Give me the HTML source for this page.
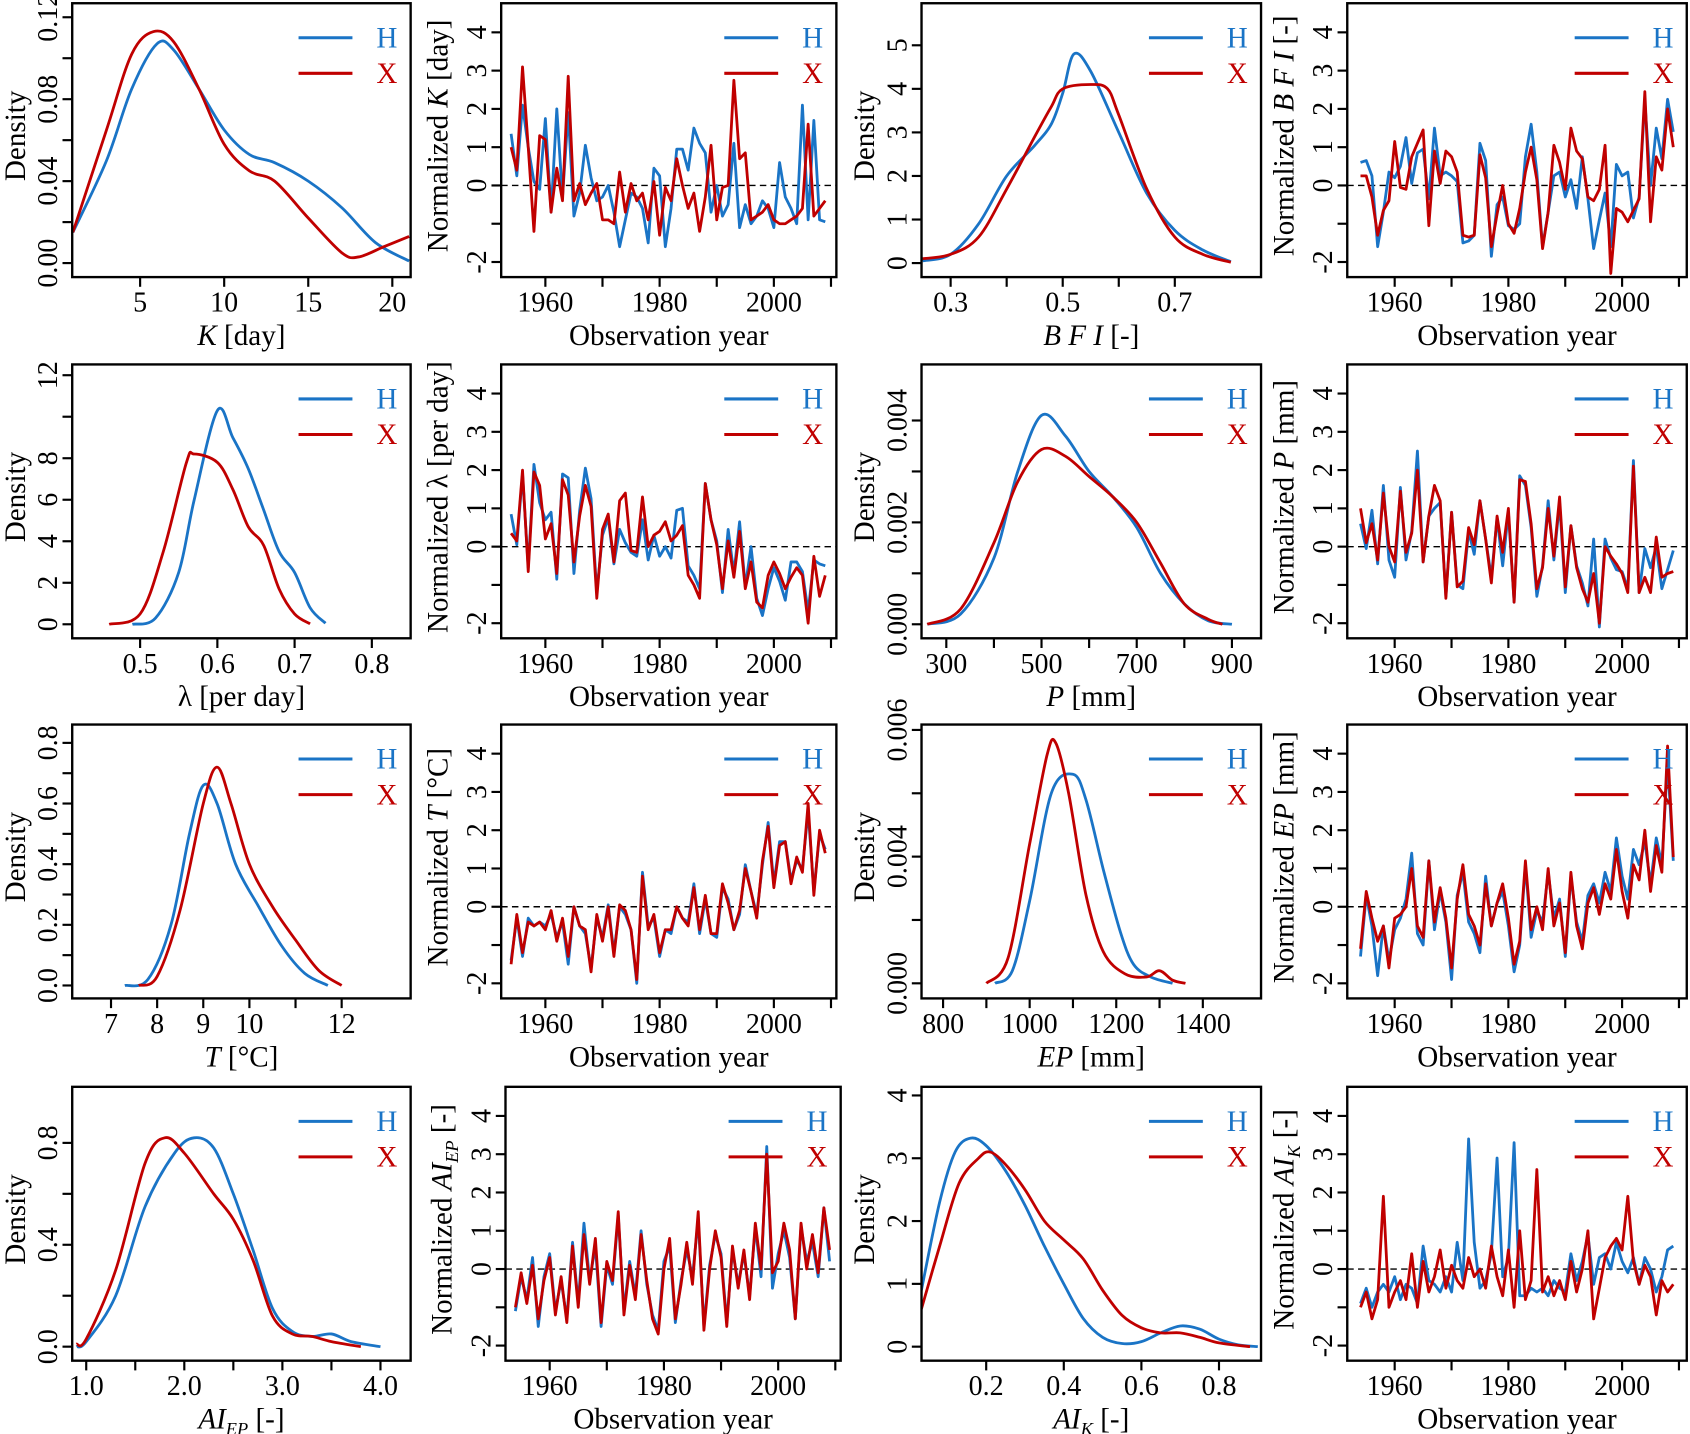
<!DOCTYPE html>
<html><head><meta charset="utf-8"><title>Density and normalized time series</title>
<style>
html,body{margin:0;padding:0;background:#fff;}
svg{display:block;font-family:"Liberation Serif",serif;}
</style></head>
<body>
<svg id="fig" xmlns="http://www.w3.org/2000/svg" width="1690" height="1434" viewBox="0 0 1568 1330" preserveAspectRatio="none"></svg>
<script>
// ---------------- data ----------------
const kX = [1,3,4.5,6,7,8.5,10,11.5,13,15,17,19,21];
const kH = [0.015,0.05,0.085,0.107,0.104,0.085,0.065,0.053,0.049,0.040,0.027,0.010,0.001];
const kXx = [1,3,4.5,5.8,7,8.5,10,11.5,13,15,17,18,19.5,21];
const kXd = [0.015,0.065,0.102,0.113,0.108,0.085,0.058,0.045,0.040,0.022,0.005,0.003,0.008,0.013];

const bfiHx = [0.25,0.3,0.35,0.4,0.45,0.48,0.5,0.52,0.55,0.6,0.65,0.7,0.75,0.8];
const bfiHd = [0.05,0.2,0.9,2.0,2.7,3.2,3.9,4.8,4.4,3.0,1.6,0.75,0.3,0.03];
const bfiXx = [0.25,0.3,0.35,0.4,0.45,0.48,0.5,0.55,0.58,0.6,0.65,0.7,0.75,0.8];
const bfiXd = [0.1,0.2,0.6,1.7,2.9,3.6,4.0,4.1,4.0,3.4,1.7,0.6,0.2,0.02];

const lamHx = [0.49,0.52,0.55,0.57,0.6,0.62,0.64,0.66,0.68,0.7,0.72,0.74];
const lamHd = [0,0.3,2.5,6,10.3,9,7.5,5.5,3.5,2.5,0.8,0.05];
const lamXx = [0.46,0.5,0.53,0.56,0.57,0.6,0.62,0.64,0.66,0.68,0.7,0.72];
const lamXd = [0,0.5,3.5,7.8,8.2,7.8,6.5,4.7,3.8,1.7,0.5,0.02];

const pHx = [260,330,400,450,500,550,600,650,700,750,800,850,900];
const pHd = [0,0.0002,0.0013,0.0030,0.0041,0.0037,0.0030,0.0025,0.0019,0.0010,0.0004,0.00007,0];
const pXx = [260,330,400,450,500,550,600,650,700,750,800,850,880];
const pXd = [0,0.0003,0.0016,0.0028,0.00343,0.0033,0.0029,0.0025,0.0020,0.0012,0.0004,0.0001,0];

const tHx = [7.3,7.8,8.3,8.7,9.0,9.3,9.7,10.2,10.7,11.2,11.7];
const tHd = [0,0.02,0.2,0.5,0.66,0.6,0.4,0.26,0.13,0.04,0];
const tXx = [7.6,8.0,8.5,9.0,9.3,9.6,10.0,10.5,11.0,11.5,12.0];
const tXd = [0,0.03,0.25,0.6,0.72,0.6,0.4,0.26,0.15,0.05,0];

const epHx = [920,960,1000,1050,1100,1130,1170,1210,1240,1280,1330];
const epHd = [0,0.0002,0.0013,0.0030,0.0033,0.0029,0.0018,0.0008,0.0003,0.0001,0];
const epXx = [900,950,1000,1040,1060,1090,1130,1170,1220,1270,1300,1330,1360];
const epXd = [0,0.0004,0.0022,0.0036,0.0038,0.0030,0.0014,0.0005,0.00015,0.0001,0.0002,0.00005,0];

const aieHx = [0.9,1.0,1.3,1.6,1.9,2.1,2.3,2.5,2.7,2.9,3.1,3.3,3.5,3.7,4.0];
const aieHd = [0,0.02,0.2,0.55,0.76,0.82,0.78,0.6,0.38,0.15,0.06,0.04,0.05,0.02,0];
const aieXx = [0.9,1.0,1.3,1.6,1.8,2.0,2.3,2.5,2.7,2.9,3.1,3.3,3.5,3.8];
const aieXd = [0.01,0.03,0.3,0.72,0.82,0.76,0.6,0.5,0.34,0.12,0.05,0.04,0.02,0];

const aikHx = [0.033,0.08,0.12,0.16,0.2,0.25,0.3,0.35,0.4,0.45,0.5,0.55,0.6,0.65,0.7,0.75,0.8,0.85,0.9];
const aikHd = [0.9,2.3,3.1,3.32,3.2,2.8,2.25,1.6,1.0,0.45,0.15,0.05,0.08,0.22,0.33,0.28,0.12,0.03,0];
const aikXx = [0.033,0.08,0.13,0.18,0.21,0.25,0.3,0.35,0.4,0.45,0.5,0.55,0.6,0.65,0.7,0.75,0.8,0.88];
const aikXd = [0.6,1.6,2.6,3.0,3.1,2.9,2.5,2.0,1.7,1.4,0.9,0.5,0.3,0.22,0.22,0.15,0.06,0];

const startYear = 1954;
const tsKH = [1.35,0.25,2.1,1.0,0.1,-0.1,1.75,-0.7,2.0,-0.3,1.9,-0.8,-0.2,1.05,0.2,-0.4,-0.3,0.0,-0.7,-1.6,-0.9,-0.2,-0.3,-0.6,-1.5,0.45,0.25,-1.6,-0.6,0.95,0.95,0.4,1.5,1.1,0.85,-0.7,0.0,-0.8,-0.5,1.1,-1.1,-0.5,-1.0,-0.8,-0.4,-0.6,-1.1,0.6,-0.3,-0.6,-1.0,2.1,-0.9,1.7,-0.9,-0.95];
const tsKX = [1.0,0.4,3.1,1.0,-1.2,1.3,1.2,-0.7,0.45,-0.4,2.85,-0.4,0.05,-0.5,-0.2,0.05,-0.9,-0.9,-1.0,0.35,-0.7,0.05,-0.4,-0.2,-0.9,0.1,-1.3,-0.05,-0.4,0.7,0.0,-0.6,-0.2,-1.2,-0.3,1.05,-0.9,-0.05,0.0,2.75,0.7,0.85,-0.9,-0.8,-0.7,-0.5,-0.9,-1.0,-1.0,-0.9,-0.8,-0.6,1.6,-0.8,-0.6,-0.4];
const tsBfiH = [0.6,0.65,0.25,-1.6,-0.7,0.35,0.2,0.5,1.25,0.05,0.85,0.95,-0.35,1.5,0.25,0.35,0.25,0.1,-1.5,-1.45,-1.3,1.1,0.65,-1.85,-0.5,-0.3,-1.05,-1.15,-1.0,0.75,1.6,0.35,-1.6,-0.7,0.25,0.35,-0.3,0.15,-0.6,0.75,-0.35,-1.65,-0.9,-0.2,-1.6,0.55,0.25,0.35,-0.85,-0.3,2.2,0.0,1.5,0.7,2.25,1.4];
const tsBfiX = [0.25,0.25,-0.3,-1.3,-0.65,-0.4,1.15,-0.05,-0.1,0.75,1.1,1.45,-1.05,0.9,0.05,0.9,0.75,0.35,-1.3,-1.35,-1.3,0.8,0.2,-1.6,-0.75,0.0,-1.0,-1.25,-0.6,0.35,1.0,0.15,-1.65,-0.7,1.05,0.6,-0.1,1.5,0.9,0.7,-0.3,-0.4,-0.1,1.05,-2.3,-0.6,-0.7,-0.95,-0.65,-0.35,2.45,-0.95,0.75,0.4,2.0,1.0];
const tsLamH = [0.85,0.05,1.9,-0.55,2.15,1.15,0.7,0.9,-0.85,1.9,1.8,-0.7,0.95,2.05,1.25,-1.2,0.3,0.75,-0.45,0.45,0.1,-0.15,-0.25,0.7,-0.35,0.3,-0.25,0.0,-0.3,0.95,1.0,-0.5,-0.75,-1.1,1.65,0.7,0.15,-1.2,0.45,-0.7,0.65,-1.05,0.0,-1.35,-1.8,-1.1,-0.55,-0.9,-1.4,-0.4,-0.4,-0.65,-1.7,-0.35,-0.45,-0.5];
const tsLamX = [0.35,0.15,2.0,-0.65,1.95,1.6,0.2,0.6,-0.7,1.75,1.35,-0.4,0.8,1.6,1.05,-1.35,0.45,0.85,-0.4,1.2,1.4,-0.1,-0.15,1.3,0.0,0.3,0.4,0.65,0.15,0.3,0.55,-0.75,-1.0,-1.35,1.65,0.7,0.05,-1.1,0.15,-0.8,0.4,-1.1,-0.4,-1.45,-1.6,-0.75,-0.4,-0.7,-1.1,-0.8,-0.55,-0.75,-2.0,-0.25,-1.3,-0.75];
const tsPH = [0.6,-0.05,0.95,-0.45,1.6,-0.35,-0.8,1.55,-0.35,0.4,2.5,-0.4,0.8,1.0,1.15,-1.3,0.9,-1.0,-1.1,0.4,-0.2,1.2,0.2,-0.8,0.75,-0.5,0.9,-1.45,1.85,1.6,0.5,-1.3,-0.5,1.2,-0.35,1.15,-1.2,0.55,-0.5,-0.95,-1.55,0.2,-2.1,0.2,-0.3,-0.6,-0.65,-1.1,2.25,-1.2,-0.05,-0.55,0.0,-1.1,-0.6,-0.1];
const tsPX = [1.0,0.1,0.6,-0.35,1.4,0.0,-0.4,1.45,-0.15,0.35,2.0,-0.4,0.8,1.6,1.2,-1.35,0.9,-1.05,-0.9,0.5,0.05,1.2,0.2,-0.95,0.8,-0.15,1.0,-1.45,1.75,1.7,0.6,-1.1,-0.55,1.0,-0.25,1.3,-1.05,0.55,-0.55,-1.1,-1.45,-0.7,-2.0,0.0,-0.25,-0.45,-0.7,-1.2,2.1,-1.2,-0.8,-1.2,0.25,-0.8,-0.7,-0.65];
const tsTH = [-1.4,-0.3,-1.3,-0.3,-0.5,-0.4,-0.5,-0.2,-0.8,-0.4,-1.5,0.0,-0.5,-0.7,-1.6,-0.3,-0.8,0.05,-1.2,0.0,-0.2,-0.6,-2.0,0.9,-0.5,-0.3,-1.3,-0.6,-0.7,0.0,-0.3,-0.4,0.6,-0.7,0.2,-0.7,-0.8,0.5,0.2,-0.6,-0.2,1.1,0.4,-0.2,1.1,2.2,0.6,1.7,1.7,0.7,1.2,1.0,2.5,0.4,1.9,1.5];
const tsTX = [-1.5,-0.2,-1.2,-0.4,-0.5,-0.4,-0.6,-0.1,-0.9,-0.3,-1.3,0.0,-0.5,-0.6,-1.7,-0.2,-0.9,0.0,-1.3,0.05,-0.1,-0.6,-1.9,0.8,-0.6,-0.2,-1.2,-0.6,-0.6,0.0,-0.3,-0.5,0.5,-0.6,0.3,-0.7,-0.7,0.6,0.1,-0.6,-0.1,1.0,0.4,-0.3,1.2,2.1,0.5,1.6,1.7,0.6,1.3,0.9,2.7,0.3,2.0,1.4];
const tsEpH = [-1.3,0.3,-0.5,-1.8,-0.5,-1.4,-0.6,-0.3,0.2,1.4,-0.7,-1.0,1.2,-0.6,0.4,-0.4,-1.9,0.3,0.9,-0.4,-0.7,-1.2,0.8,-0.5,0.1,0.4,-0.5,-1.7,-1.0,1.1,-0.8,-0.1,-0.4,0.9,-0.3,0.2,-1.3,0.8,-0.4,-0.9,0.3,0.6,0.1,0.9,0.4,1.8,0.8,0.2,1.5,1.1,1.7,0.6,1.8,1.1,3.8,1.2];
const tsEpX = [-1.1,0.4,-0.3,-0.9,-0.5,-1.6,-0.3,-0.2,0.0,1.0,-0.5,-0.8,1.2,-0.4,0.5,-0.3,-1.6,0.2,1.1,-0.2,-0.5,-1.0,0.6,-0.5,0.1,0.6,-0.3,-1.5,-0.9,1.2,-0.6,0.0,-0.6,1.0,-0.5,0.1,-1.2,0.9,-0.5,-1.1,0.1,0.5,-0.2,0.6,0.2,1.5,0.4,-0.3,1.1,0.7,2.0,0.4,1.6,0.9,4.2,1.3];
const tsAieH = [-1.1,-0.2,-0.8,0.3,-1.5,-0.2,0.4,-1.1,-0.3,-1.3,0.7,-0.9,1.2,-0.3,0.6,-1.5,0.1,-0.4,1.4,-1.1,0.2,-0.7,1.0,-0.4,-1.2,-1.6,0.2,0.6,-1.4,-0.3,0.5,-0.2,1.3,-1.5,0.1,0.9,0.4,-1.4,0.5,-0.4,0.4,-0.7,1.1,-0.2,3.2,-0.5,0.4,1.0,0.3,-1.3,1.1,0.2,0.7,-0.2,1.6,0.2];
const tsAieX = [-1.0,-0.1,-0.9,0.1,-1.3,-0.3,0.3,-1.2,-0.2,-1.4,0.6,-1.0,0.9,-0.4,0.8,-1.4,0.2,-0.3,1.5,-1.2,0.1,-0.8,0.9,-0.3,-1.3,-1.7,0.0,0.8,-1.3,-0.4,0.7,-0.4,1.5,-1.6,0.0,1.0,0.3,-1.5,0.6,-0.5,0.5,-0.8,1.2,0.0,3.0,-0.1,0.2,1.2,0.5,-1.3,1.2,0.0,0.9,-0.1,1.6,0.5];
const tsAikH = [-0.9,-0.5,-1.0,-0.6,-0.4,-0.6,-0.2,-0.8,-0.4,-0.5,-0.9,0.6,-0.3,-0.4,-0.6,-0.2,-0.6,0.7,-0.3,3.4,0.7,-0.5,-0.3,0.4,2.9,-0.2,0.3,3.3,-0.7,-0.7,-0.5,-0.6,-0.5,-0.7,-0.3,-0.5,-0.6,0.4,-0.3,0.2,0.9,-0.4,0.3,0.4,0.0,0.7,0.2,-0.1,0.3,-0.4,0.3,0.0,-0.6,-0.2,0.5,0.6];
const tsAikX = [-1.0,-0.6,-1.3,-0.8,1.9,-1.0,-0.6,-0.3,-0.8,0.4,-1.0,0.2,-0.6,-0.2,0.5,-0.5,0.1,-0.3,-0.5,0.3,-0.2,0.0,-0.5,0.6,-0.2,-0.7,0.5,-1.0,1.0,-0.8,-0.3,2.6,-0.6,-0.2,-0.7,-0.3,-0.8,0.2,-0.6,0.0,1.0,-1.3,-0.5,0.3,0.6,0.8,0.5,1.9,0.2,-0.4,0.1,-0.2,-1.2,-0.3,-0.6,-0.4];

const tsYTicks = [-2,-1,0,1,2,3,4];
const tsYLabels = ['-2','','0','1','2','3','4'];
const tsXTicks = [1960,1970,1980,1990,2000,2010];
const tsXLabels = ['1960','','1980','','2000',''];

// ---------------- rendering ----------------
const NS = 'http://www.w3.org/2000/svg';
const svg = document.getElementById('fig');
const BLUE = '#1a74c6', RED = '#c00000';
const cols = [[67,381],[465,776],[855,1170],[1250,1565]];
const rowTops = [3,338,672,1008];
const BH = 254;
const TICKFS = 26, TITLEFS = 27;

function mk(tag, parent, a){
  const e = document.createElementNS(NS, tag);
  if (a) for (const k in a) e.setAttribute(k, a[k]);
  parent.appendChild(e);
  return e;
}
function lin(v1,p1,v2,p2){ return v => p1 + (v - v1) * (p2 - p1) / (v2 - v1); }
function smoothPath(pts){
  if (pts.length < 2) return '';
  let d = 'M' + pts[0][0].toFixed(1) + ',' + pts[0][1].toFixed(1);
  for (let i = 0; i < pts.length - 1; i++){
    const p0 = pts[Math.max(0,i-1)], p1 = pts[i], p2 = pts[i+1], p3 = pts[Math.min(pts.length-1,i+2)];
    const c1x = p1[0] + (p2[0]-p0[0])/6, c1y = p1[1] + (p2[1]-p0[1])/6;
    const c2x = p2[0] - (p3[0]-p1[0])/6, c2y = p2[1] - (p3[1]-p1[1])/6;
    d += ' C' + c1x.toFixed(1)+','+c1y.toFixed(1)+' '+c2x.toFixed(1)+','+c2y.toFixed(1)+' '+p2[0].toFixed(1)+','+p2[1].toFixed(1);
  }
  return d;
}
function addRich(textEl, parts){
  parts.forEach(p => {
    const t = mk('tspan', textEl);
    if (p.i) t.setAttribute('font-style','italic');
    if (p.sub){ t.setAttribute('font-size','17'); t.setAttribute('dy','6'); }
    if (p.up){ t.setAttribute('dy','-6'); }
    t.textContent = p.t;
  });
}

let clipId = 0;
function panel(cfg){
  const [L, R] = cfg.xr || cols[cfg.col];
  const T = rowTops[cfg.row], B = T + BH;
  const g = mk('g', svg);
  
  
  const xs = lin(cfg.xa[0], cfg.xa[1], cfg.xb[0], cfg.xb[1]);
  const ys = lin(cfg.ya[0], T + cfg.ya[1], cfg.yb[0], T + cfg.yb[1]);

  const cid = 'clip' + (clipId++);
  const cp = mk('clipPath', g, {id: cid});
  mk('rect', cp, {x: L, y: T, width: R - L, height: BH});

  const xt = mk('g', g);
  
  
  cfg.xticks.forEach((v, i) => {
    const px = xs(v);
    const tk = mk('line', xt, {x1: px, x2: px, y1: B, y2: B + 9, stroke: '#000', 'stroke-width': 2});
    
    
    if (cfg.xlabels[i]){
      const tl = mk('text', xt, {x: px, y: B + 32, 'font-size': TICKFS, 'text-anchor': 'middle'});
      
      
      tl.textContent = cfg.xlabels[i];
    }
  });
  const yt = mk('g', g);
  
  
  cfg.yticks.forEach((v, i) => {
    const py = ys(v);
    const tk = mk('line', yt, {x1: L - 9, x2: L, y1: py, y2: py, stroke: '#000', 'stroke-width': 2});
    
    
    if (cfg.ylabels[i]){
      const lx = L - 14;
      const tl = mk('text', yt, {x: lx, y: py, 'font-size': TICKFS, 'text-anchor': 'middle', transform: 'rotate(-90 ' + lx + ' ' + py + ')'});
      
      
      tl.textContent = cfg.ylabels[i];
    }
  });
  if (cfg.ts){
    const zl = mk('line', g, {x1: L, x2: R, y1: ys(0), y2: ys(0), stroke: '#000', 'stroke-width': 1.3, 'stroke-dasharray': '6,4'});
    
    
  }
  const sg = mk('g', g, {'clip-path': 'url(#' + cid + ')'});
  cfg.series.forEach(s => {
    let pts;
    if (cfg.ts) pts = s.v.map((v, i) => [xs(startYear + i), ys(v)]);
    else pts = s.x.map((v, i) => [xs(v), ys(s.v[i])]);
    const d = cfg.ts ? 'M' + pts.map(p => p[0].toFixed(1) + ',' + p[1].toFixed(1)).join(' L') : smoothPath(pts);
    const p = mk('path', sg, {d: d, fill: 'none', stroke: s.c, 'stroke-width': 2.6, 'stroke-linejoin': 'round'});
    
    
  });
  const fr = mk('rect', g, {x: L, y: T, width: R - L, height: BH, fill: 'none', stroke: '#000', 'stroke-width': 2.2});
  
  
  const lg = mk('g', g);
  
  
  [['H', BLUE, 32], ['X', RED, 65]].forEach(([lab, col, dy]) => {
    const ln = mk('line', lg, {x1: R - 104, x2: R - 54, y1: T + dy, y2: T + dy, stroke: col, 'stroke-width': 2.8});
    
    
    const tx = mk('text', lg, {x: R - 22, y: T + dy + 9, 'font-size': 27, 'text-anchor': 'middle', fill: col});
    
    
    tx.textContent = lab;
  });
  const xtl = mk('text', g, {x: (L + R) / 2, y: B + 63, 'font-size': TITLEFS, 'text-anchor': 'middle'});
  
  
  addRich(xtl, cfg.xtitle);
  const yx = L - (cfg.ts ? 50 : 44), yy = (T + B) / 2 - 4;
  const ytl = mk('text', g, {x: yx, y: yy, 'font-size': TITLEFS, 'text-anchor': 'middle', transform: 'rotate(-90 ' + yx + ' ' + yy + ')'});
  
  
  addRich(ytl, cfg.ytitle);
}

function densityPanel(name, col, row, xa, xb, ya, yb, xticks, xlabels, yticks, ylabels, xtitle, hx, hv, xx, xv){
  panel({name, col, row, xa, xb, ya, yb, xticks, xlabels, yticks, ylabels, xtitle,
    ytitle: [{t: 'Density'}],
    series: [{name: 'h-density-curve', c: BLUE, x: hx, v: hv}, {name: 'x-density-curve', c: RED, x: xx, v: xv}]});
}
function tsPanel(name, col, row, ytitle, hv, xv){
  const c2 = col === 1;
  const shift = (c2 && row === 3) ? 4 : 0;
  panel({name, col, row, ts: true,
    xr: c2 ? [465 + shift, 776 + shift] : cols[col],
    xa: c2 ? [1960, 506 + shift] : [1960, 1294],
    xb: c2 ? [2000, 718 + shift] : [2000, 1505],
    ya: [0, 169], yb: [4, 27],
    xticks: tsXTicks, xlabels: tsXLabels, yticks: tsYTicks, ylabels: tsYLabels,
    xtitle: [{t: 'Observation year'}], ytitle,
    series: [{name: 'h-series-line', c: BLUE, v: hv}, {name: 'x-series-line', c: RED, v: xv}]});
}

densityPanel('k-density-panel', 0, 0, [5,130], [20,364], [0,241], [0.12,13],
  [5,10,15,20], ['5','10','15','20'], [0,0.02,0.04,0.06,0.08,0.1,0.12], ['0.00','','0.04','','0.08','','0.12'],
  [{t:'K', i:true}, {t:' [day]'}], kX, kH, kXx, kXd);
tsPanel('k-timeseries-panel', 1, 0, [{t:'Normalized '}, {t:'K', i:true}, {t:' [day]'}], tsKH, tsKX);
densityPanel('bfi-density-panel', 2, 0, [0.3,882], [0.7,1090], [0,241], [5,39],
  [0.3,0.4,0.5,0.6,0.7], ['0.3','','0.5','','0.7'], [0,1,2,3,4,5], ['0','1','2','3','4','5'],
  [{t:'B F I', i:true}, {t:'  [-]'}], bfiHx, bfiHd, bfiXx, bfiXd);
tsPanel('bfi-timeseries-panel', 3, 0, [{t:'Normalized '}, {t:'B F I', i:true}, {t:'  [-]'}], tsBfiH, tsBfiX);
densityPanel('lambda-density-panel', 0, 1, [0.5,130], [0.8,345], [0,241], [12,10],
  [0.5,0.6,0.7,0.8], ['0.5','0.6','0.7','0.8'], [0,2,4,6,8,10,12], ['0','2','4','6','8','','12'],
  [{t:'λ  [per day]'}], lamHx, lamHd, lamXx, lamXd);
tsPanel('lambda-timeseries-panel', 1, 1, [{t:'Normalized λ  [per day]'}], tsLamH, tsLamX);
densityPanel('p-density-panel', 2, 1, [300,878], [900,1143], [0,241], [0.004,52],
  [300,400,500,600,700,800,900], ['300','','500','','700','','900'], [0,0.001,0.002,0.003,0.004], ['0.000','','0.002','','0.004'],
  [{t:'P', i:true}, {t:'  [mm]'}], pHx, pHd, pXx, pXd);
tsPanel('p-timeseries-panel', 3, 1, [{t:'Normalized '}, {t:'P', i:true}, {t:'  [mm]'}], tsPH, tsPX);
densityPanel('t-density-panel', 0, 2, [7,103], [12,317], [0,242], [0.8,17],
  [7,8,9,10,11,12], ['7','8','9','10','','12'], [0,0.1,0.2,0.3,0.4,0.5,0.6,0.7,0.8], ['0.0','','0.2','','0.4','','0.6','','0.8'],
  [{t:'T', i:true}, {t:'  [°C]'}], tHx, tHd, tXx, tXd);
tsPanel('t-timeseries-panel', 1, 2, [{t:'Normalized '}, {t:'T', i:true}, {t:' [°C]'}], tsTH, tsTX);
densityPanel('ep-density-panel', 2, 2, [800,875], [1400,1116], [0,240], [0.004,5],
  [800,900,1000,1100,1200,1300,1400], ['800','','1000','','1200','','1400'], [0,0.001,0.002,0.003,0.004], ['0.000','','0.004','','0.006'],
  [{t:'EP', i:true}, {t:'  [mm]'}], epHx, epHd, epXx, epXd);
tsPanel('ep-timeseries-panel', 3, 2, [{t:'Normalized '}, {t:'EP', i:true}, {t:' [mm]'}], tsEpH, tsEpX);
densityPanel('ai-ep-density-panel', 0, 3, [1.0,80], [4.0,353], [0,241], [0.8,52],
  [1,1.5,2,2.5,3,3.5,4], ['1.0','','2.0','','3.0','','4.0'], [0,0.2,0.4,0.6,0.8], ['0.0','','0.4','','0.8'],
  [{t:'AI', i:true}, {t:'EP', i:true, sub:true}, {t:'  [-]', up:true}], aieHx, aieHd, aieXx, aieXd);
tsPanel('ai-ep-timeseries-panel', 1, 3, [{t:'Normalized '}, {t:'AI', i:true}, {t:'EP', i:true, sub:true}, {t:'  [-]', up:true}], tsAieH, tsAieX);
densityPanel('ai-k-density-panel', 2, 3, [0.2,915], [0.8,1131], [0,241], [4,8],
  [0.2,0.4,0.6,0.8], ['0.2','0.4','0.6','0.8'], [0,1,2,3,4], ['0','1','2','3','4'],
  [{t:'AI', i:true}, {t:'K', i:true, sub:true}, {t:'  [-]', up:true}], aikHx, aikHd, aikXx, aikXd);
tsPanel('ai-k-timeseries-panel', 3, 3, [{t:'Normalized '}, {t:'AI', i:true}, {t:'K', i:true, sub:true}, {t:'  [-]', up:true}], tsAikH, tsAikX);
</script>
</body></html>
